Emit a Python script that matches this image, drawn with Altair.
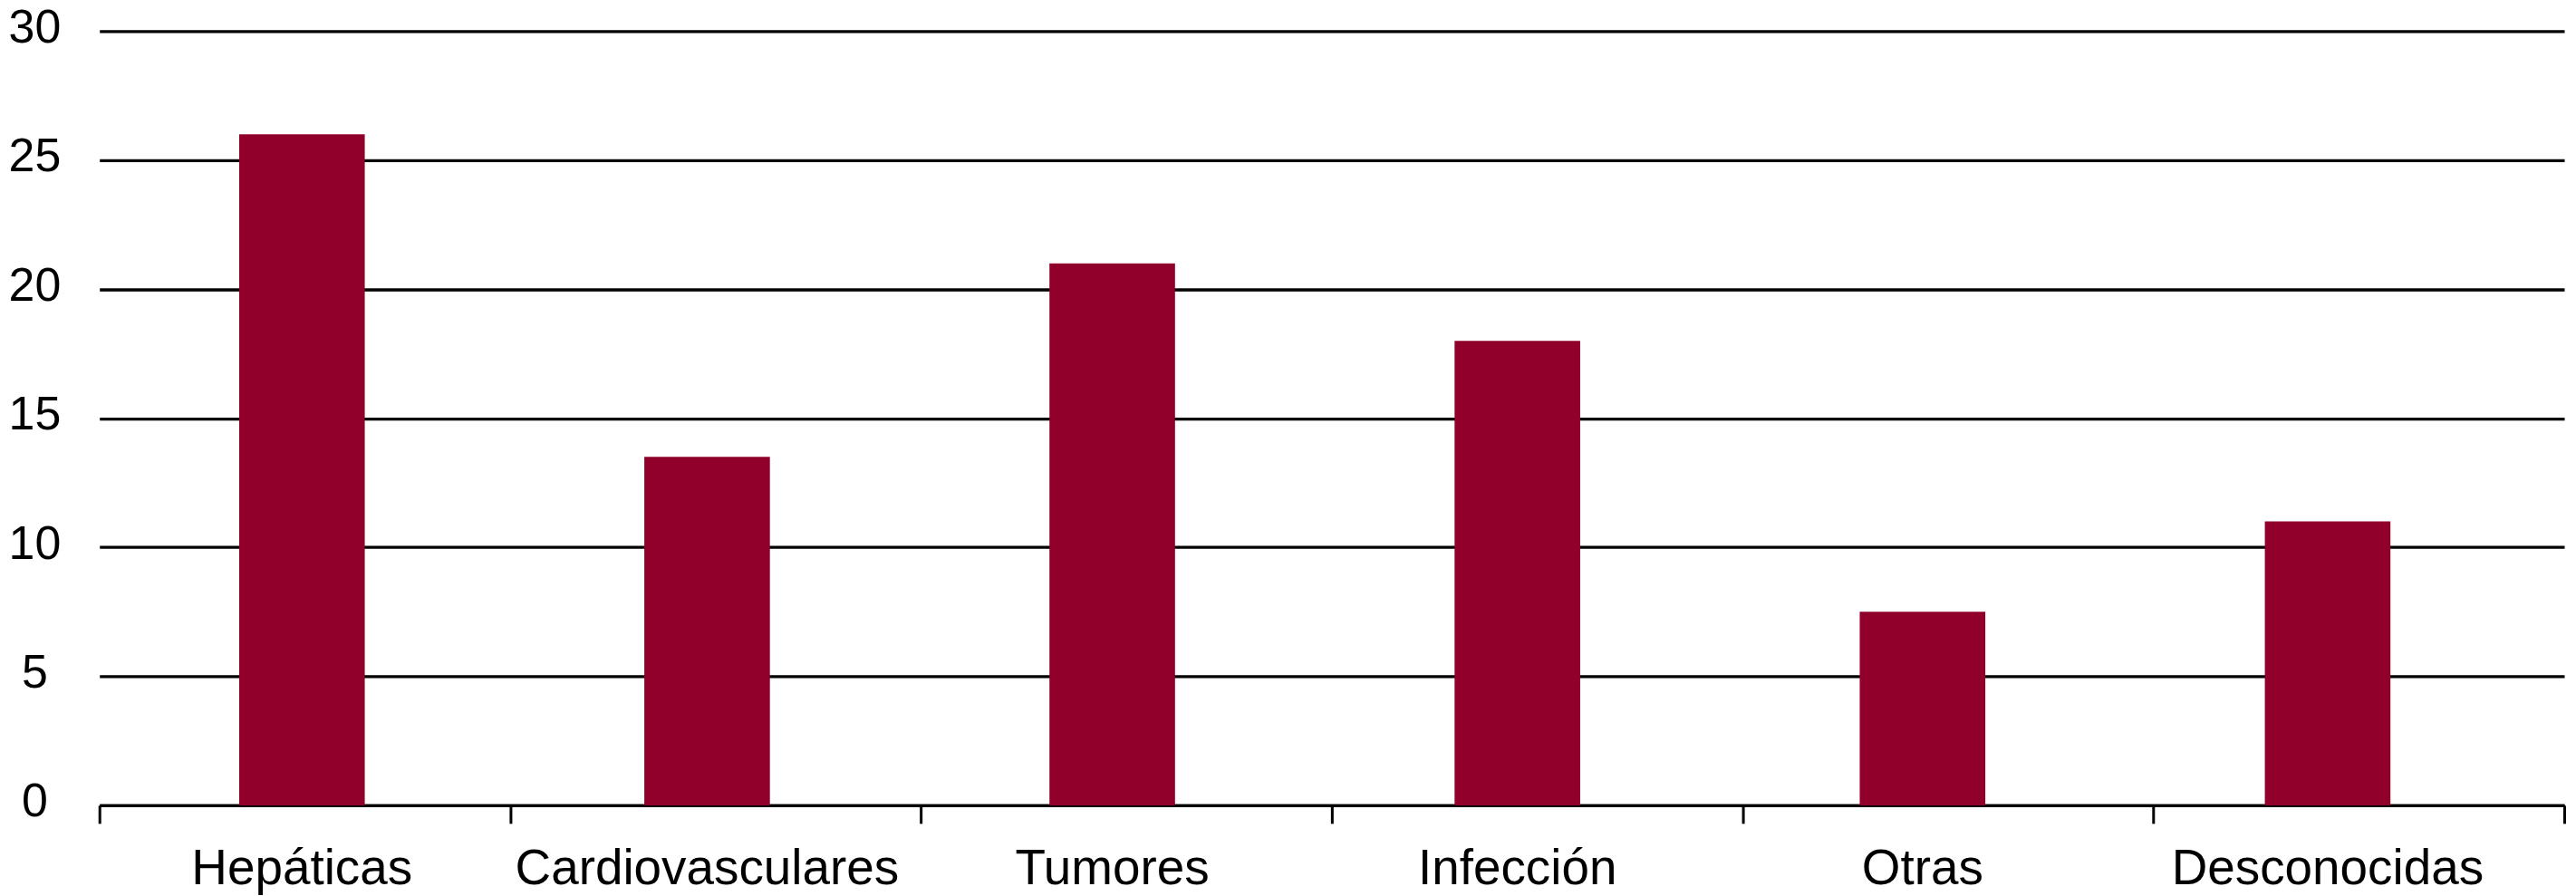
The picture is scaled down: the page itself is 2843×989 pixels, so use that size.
import altair as alt
import pandas as pd

categories = ["Hepáticas", "Cardiovasculares", "Tumores", "Infección", "Otras", "Desconocidas"]
values = [26, 13.5, 21, 18, 7.5, 11]
y_ticks = [0, 5, 10, 15, 20, 25, 30]

df = pd.DataFrame({"cat": categories, "val": values})

FONT = "Liberation Sans"
BAR = "#91002A"
LINE_W = 3.3


def y_enc():
    return alt.Y(
        "val:Q",
        scale=alt.Scale(domain=[0, 30], nice=False),
        axis=alt.Axis(
            title=None, values=y_ticks, grid=True, gridColor="black", gridWidth=LINE_W,
            gridOpacity=1, domain=False, ticks=False, tickSize=0,
            labelFont=FONT, labelFontSize=52, labelColor="black",
            labelAlign="center", labelPadding=72, labelBaseline="alphabetic", labelOffset=12,
        ),
    )


bars = alt.Chart(df).mark_bar(color=BAR, width=alt.RelativeBandSize(0.31)).encode(
    x=alt.X(
        "cat:N", sort=categories,
        scale=alt.Scale(paddingInner=0, paddingOuter=0.042, align=0),
        axis=alt.Axis(
            title=None, orient="bottom", labelAngle=0, domain=False, ticks=False, tickSize=0,
            labelFont=FONT, labelFontSize=55, labelColor="black", labelLimit=0,
            labelPadding=87, labelBaseline="alphabetic", grid=False,
        ),
    ),
    y=y_enc(),
)

frame = alt.Chart(df).mark_bar(opacity=0).encode(
    x=alt.X(
        "cat:N", sort=categories,
        scale=alt.Scale(paddingInner=0, paddingOuter=0),
        axis=alt.Axis(
            title=None, orient="bottom", labels=False, domain=True, domainColor="black",
            domainWidth=LINE_W, ticks=True, tickColor="black", tickWidth=3, tickSize=20,
            tickBand="extent", grid=False,
        ),
    ),
    y=y_enc(),
)

chart = (
    alt.layer(frame, bars)
    .resolve_scale(x="independent")
    .properties(
        width=2728, height=857,
        autosize=alt.AutoSizeParams(type="none"),
        padding={"left": 102, "top": 25, "right": 5, "bottom": 106},
        background="white",
    )
    .configure_view(stroke=None)
)

chart.save("out.html", embed_options={"renderer": "svg", "actions": False})
